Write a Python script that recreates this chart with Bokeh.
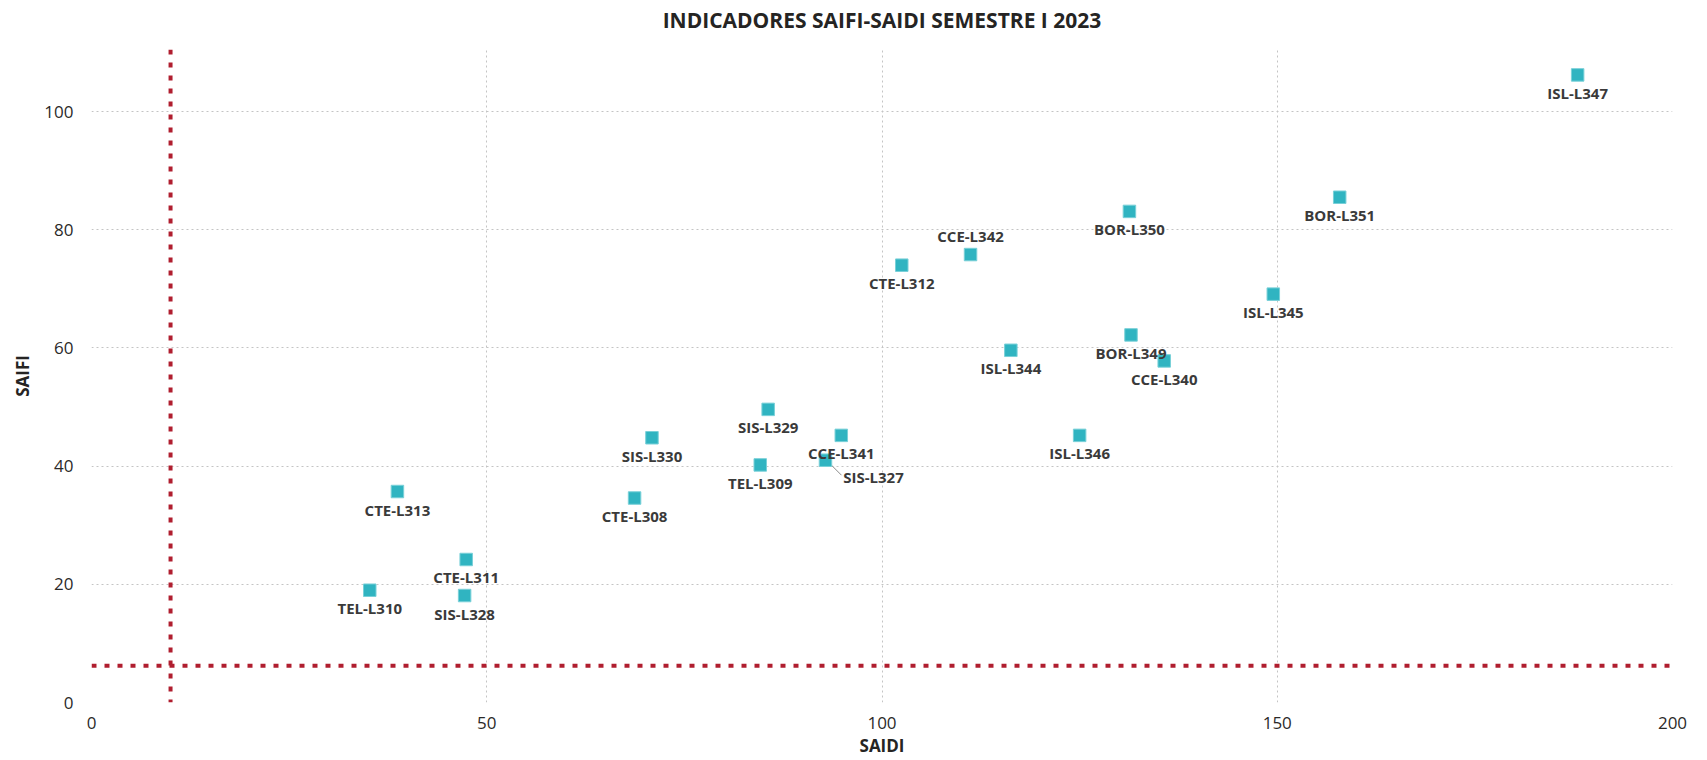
from bokeh.plotting import figure
from bokeh.models import ColumnDataSource, Range1d, Span, FixedTicker, LinearAxis
from bokeh.core.properties import value
from bokeh.embed import file_html
from bokeh.resources import INLINE

# ---- data ----
lines = ["ISL-L347", "BOR-L351", "BOR-L350", "CCE-L342", "CTE-L312", "ISL-L345",
         "BOR-L349", "ISL-L344", "CCE-L340", "SIS-L329", "ISL-L346", "CCE-L341",
         "SIS-L330", "SIS-L327", "TEL-L309", "CTE-L313", "CTE-L308", "CTE-L311",
         "TEL-L310", "SIS-L328"]
saidi = [188.0, 157.9, 131.3, 111.2, 102.5, 149.5,
         131.5, 116.3, 135.7, 85.6, 125.0, 94.85,
         70.9, 92.85, 84.6, 38.7, 68.7, 47.4,
         35.2, 47.2]
saifi = [106.2, 85.5, 83.1, 75.8, 74.0, 69.1,
         62.2, 59.6, 57.8, 49.6, 45.2, 45.2,
         44.8, 41.0, 40.2, 35.7, 34.6, 24.2,
         19.0, 18.1]
x_ticks = [0, 50, 100, 150, 200]
y_ticks = [0, 20, 40, 60, 80, 100]
saidi_ref = 10
saifi_ref = 6.2
title_text = "INDICADORES SAIFI-SAIDI SEMESTRE I 2023"
x_title = "SAIDI"
y_title = "SAIFI"

# ---- layout ----
FW, FH = 1581, 653
X0, X1 = 0, 200
Y0, Y1 = 0, 110.5
pxx = FW / (X1 - X0)
pxy = FH / (Y1 - Y0)

p = figure(width=1706, height=760, frame_width=FW, frame_height=FH,
           x_range=Range1d(X0, X1), y_range=Range1d(Y0, Y1),
           output_backend="svg", toolbar_location=None,
           min_border_left=91, min_border_right=34, min_border_top=49, min_border_bottom=58)
p.background_fill_color = "white"
p.border_fill_color = "white"
p.outline_line_color = None

# handles on the real axes (before any extra axis is added)
xax = p.below[0]
yax = p.left[0]

for ax in (xax, yax):
    ax.axis_line_color = None
    ax.major_tick_line_color = None
    ax.minor_tick_line_color = None
    ax.major_label_text_font = "Open Sans"
    ax.major_label_text_font_size = "17px"
    ax.major_label_text_color = "#2b2a29"
    ax.axis_label_text_font = "Open Sans"
    ax.axis_label_text_font_size = "17px"
    ax.axis_label_text_font_style = "bold"
    ax.axis_label_text_color = "#252423"

xax.ticker = FixedTicker(ticks=x_ticks)
yax.ticker = FixedTicker(ticks=y_ticks)
xax.axis_label = x_title
yax.axis_label = y_title
xax.major_label_standoff = 8
xax.axis_label_standoff = 2
yax.major_label_standoff = 12
yax.axis_label_standoff = 7

for g in (p.xgrid[0], p.ygrid[0]):
    g.grid_line_color = "#c4c4c4"
    g.grid_line_dash = "2 3"
    g.grid_line_width = 1

# chart title, drawn as the label of a tick-less axis above the frame
title_axis = LinearAxis(ticker=FixedTicker(ticks=[]), axis_label=title_text,
                        axis_line_color=None, major_tick_line_color=None,
                        minor_tick_line_color=None, major_tick_out=0, minor_tick_out=0,
                        major_label_standoff=0, major_label_text_font_size="1px",
                        axis_label_standoff=16,
                        axis_label_text_font="Open Sans", axis_label_text_font_size="21px",
                        axis_label_text_font_style="bold", axis_label_text_color="#252423")
p.add_layout(title_axis, "above")

# reference lines
p.add_layout(Span(location=saidi_ref, dimension="height", line_color="#b01e2f",
                  line_width=4, line_dash="5 8"))
p.add_layout(Span(location=saifi_ref, dimension="width", line_color="#b01e2f",
                  line_width=4, line_dash="5 8"))

# label placement (screen offsets)
above = {"CCE-L342"}
leader = {"SIS-L327"}
xo, yo = [], []
for name in lines:
    if name in above:
        xo.append(0); yo.append(-18.5)
    elif name in leader:
        xo.append(48); yo.append(17)
    else:
        xo.append(0); yo.append(18)

src = ColumnDataSource(dict(x=saidi, y=saifi, name=lines, xo=xo, yo=yo))

# leader lines
lx0, ly0, lx1, ly1 = [], [], [], []
for n, xv, yv in zip(lines, saidi, saifi):
    if n in leader:
        lx0.append(xv + 3 / pxx); ly0.append(yv - 2 / pxy)
        lx1.append(xv + 16 / pxx); ly1.append(yv - 15 / pxy)
p.segment(x0=lx0, y0=ly0, x1=lx1, y1=ly1, line_color="#8a8a8a", line_width=1)

p.scatter("x", "y", source=src, marker="square", size=12.5,
          fill_color="#30b4c1", line_color="#79d0d8", line_width=1)

p.text("x", "y", text="name", source=src, x_offset="xo", y_offset="yo",
       text_font=value("Open Sans"), text_font_size="15px", text_font_style="bold",
       text_color="#3a3a3a", text_align="center", text_baseline="middle")

open("out.html", "w").write(file_html(p, INLINE))
